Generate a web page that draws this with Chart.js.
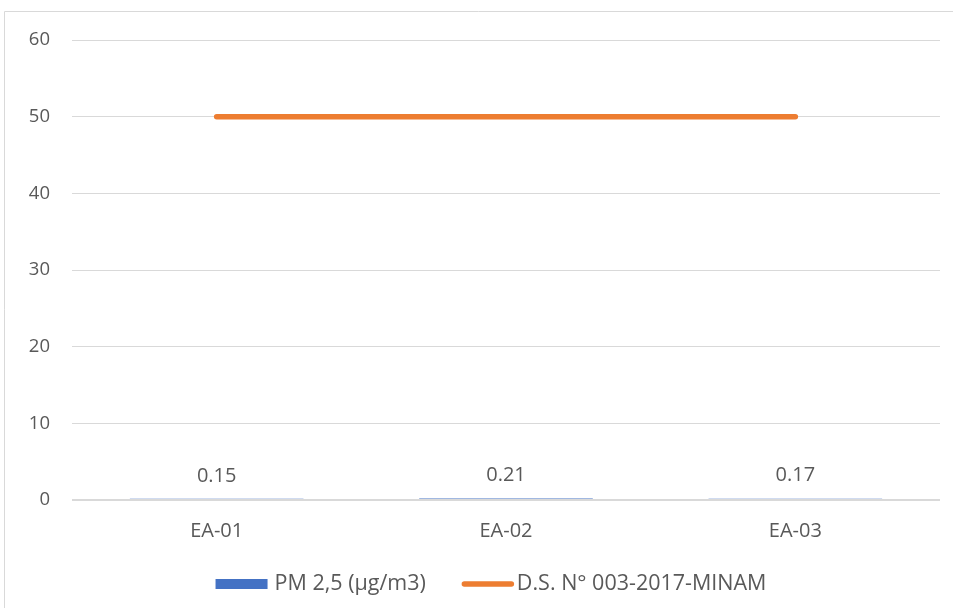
<!DOCTYPE html>
<html>
<head>
<meta charset="utf-8">
<script src="https://cdn.jsdelivr.net/npm/chart.js@4"></script>
<style>
  html, body { margin: 0; padding: 0; background: #fff; }
  #wrap { position: relative; width: 953px; height: 608px; }
</style>
</head>
<body>
<div id="wrap"><canvas id="c" width="953" height="608"></canvas></div>
<script>
// Monitoring stations and measured PM 2.5 concentrations
const stations = ['EA-01', 'EA-02', 'EA-03'];
const pm25 = [0.15, 0.21, 0.17];
// Air quality standard (D.S. N° 003-2017-MINAM)
const standard = [50, 50, 50];
const yTicks = [0, 10, 20, 30, 40, 50, 60];

const seriesNames = ['PM 2,5 (µg/m3)', 'D.S. N° 003-2017-MINAM'];
const BLUE = '#4472C4';
const ORANGE = '#ED7D31';
const TEXT = '#595959';
const GRID = '#d9d9d9';
const FONT = '"Open Sans", "Noto Sans", sans-serif';
const TICK_FS = 18.5;
const LABEL_FS = 20;
const LEGEND_FS = 21.5;

// Outer frame of the chart
const framePlugin = {
  id: 'frame',
  beforeDraw(chart) {
    const ctx = chart.ctx;
    ctx.save();
    ctx.strokeStyle = GRID;
    ctx.lineWidth = 1;
    ctx.beginPath();
    ctx.moveTo(4.5, chart.height);
    ctx.lineTo(4.5, 11.5);
    ctx.lineTo(chart.width, 11.5);
    ctx.stroke();
    ctx.restore();
  }
};

// Horizontal axis line at zero, drawn over the bars
const zeroLine = {
  id: 'zeroLine',
  afterDatasetsDraw(chart) {
    const ctx = chart.ctx;
    const y = chart.scales.y.getPixelForValue(0);
    const a = chart.chartArea;
    ctx.save();
    ctx.strokeStyle = GRID;
    ctx.lineWidth = 2;
    ctx.beginPath();
    ctx.moveTo(a.left, y);
    ctx.lineTo(a.right, y);
    ctx.stroke();
    ctx.restore();
  }
};

// Value labels above each bar
const valueLabels = {
  id: 'valueLabels',
  afterDatasetsDraw(chart) {
    const ctx = chart.ctx;
    const meta = chart.getDatasetMeta(0);
    ctx.save();
    ctx.fillStyle = TEXT;
    ctx.font = LABEL_FS + 'px ' + FONT;
    ctx.textAlign = 'center';
    ctx.textBaseline = 'middle';
    meta.data.forEach((bar, i) => {
      ctx.fillText(pm25[i].toFixed(2), bar.x, bar.y - 23);
    });
    ctx.restore();
  }
};

// Legend along the bottom
const bottomLegend = {
  id: 'bottomLegend',
  afterDraw(chart) {
    const ctx = chart.ctx;
    ctx.save();
    ctx.font = LEGEND_FS + 'px ' + FONT;
    ctx.textBaseline = 'middle';
    const y = 584;
    const sw = 52;
    const w0 = ctx.measureText(seriesNames[0]).width;
    const w1 = ctx.measureText(seriesNames[1]).width;
    const total = sw + 7 + w0 + 36 + sw + 3 + w1;
    let x = 491 - total / 2;
    ctx.fillStyle = BLUE;
    ctx.fillRect(x, y - 5, sw, 10);
    x += sw + 7;
    ctx.fillStyle = TEXT;
    ctx.fillText(seriesNames[0], x, y);
    x += w0 + 36;
    ctx.strokeStyle = ORANGE;
    ctx.lineWidth = 5.5;
    ctx.lineCap = 'round';
    ctx.beginPath();
    ctx.moveTo(x + 2.5, y);
    ctx.lineTo(x + sw - 2.5, y);
    ctx.stroke();
    x += sw + 3;
    ctx.fillText(seriesNames[1], x, y);
    ctx.restore();
  }
};

new Chart(document.getElementById('c'), {
  data: {
    labels: stations,
    datasets: [
      {
        type: 'bar',
        label: seriesNames[0],
        data: pm25,
        backgroundColor: BLUE,
        barPercentage: 0.6,
        categoryPercentage: 1,
        order: 2
      },
      {
        type: 'line',
        label: seriesNames[1],
        data: standard,
        borderColor: ORANGE,
        backgroundColor: ORANGE,
        borderWidth: 5.5,
        borderCapStyle: 'round',
        pointRadius: 0,
        pointHoverRadius: 0,
        fill: false,
        order: 1
      }
    ]
  },
  options: {
    responsive: false,
    animation: false,
    events: [],
    layout: { padding: { top: 40, right: 13, bottom: 0, left: 0 } },
    plugins: {
      legend: { display: false },
      tooltip: { enabled: false }
    },
    scales: {
      x: {
        grid: { display: false, drawTicks: false },
        border: { display: false },
        ticks: { color: TEXT, font: { family: FONT, size: LABEL_FS }, padding: 19 },
        afterFit(scale) { scale.height = 108; }
      },
      y: {
        min: 0,
        max: 60,
        afterBuildTicks(scale) { scale.ticks = yTicks.map(v => ({ value: v })); },
        grid: { color: GRID, lineWidth: 1, drawTicks: false },
        border: { display: false },
        ticks: { color: TEXT, font: { family: FONT, size: TICK_FS }, padding: 22 },
        afterFit(scale) { scale.width = 72; }
      }
    }
  },
  plugins: [framePlugin, zeroLine, valueLabels, bottomLegend]
});
</script>
</body>
</html>
